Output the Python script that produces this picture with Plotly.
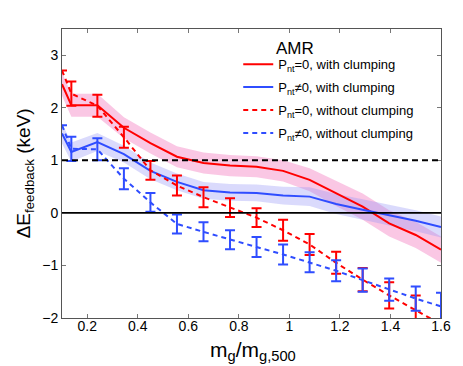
import plotly.graph_objects as go

# binned mass ratio where the error bars sit
x_bins = [0.137, 0.24, 0.345, 0.45, 0.555, 0.66, 0.765, 0.87, 0.975, 1.08, 1.185, 1.29, 1.395, 1.5]

# P_nt = 0, with clumping (solid red + band)
x_red_clump = [0.1, 0.137, 0.24, 0.345, 0.45, 0.555, 0.66, 0.765, 0.87, 0.975, 1.08, 1.185, 1.29, 1.395, 1.5, 1.6]
y_red_clump = [2.45, 2.05, 2.05, 1.62, 1.33, 1.07, 0.95, 0.90, 0.88, 0.80, 0.63, 0.37, 0.12, -0.20, -0.42, -0.70]
band_red = [0.22, 0.22, 0.22, 0.2, 0.2, 0.2, 0.2, 0.2, 0.2, 0.2, 0.22, 0.24, 0.25, 0.25, 0.25, 0.25]

# P_nt != 0, with clumping (solid blue + band)
x_blue_clump = x_red_clump
y_blue_clump = [1.51, 1.16, 1.35, 1.12, 0.80, 0.59, 0.43, 0.39, 0.38, 0.33, 0.31, 0.17, 0.06, -0.04, -0.15, -0.27]
band_blue = [0.19, 0.18, 0.17, 0.16, 0.16, 0.16, 0.16, 0.16, 0.16, 0.17, 0.18, 0.19, 0.2, 0.2, 0.2, 0.2]

# P_nt = 0, without clumping (dashed red + error bars)
x_red_noclump = [0.1] + x_bins + [1.6]
y_red_noclump = [2.71, 2.27, 2.04, 1.44, 0.81, 0.52, 0.30, 0.10, -0.09, -0.33, -0.60, -0.95, -1.27, -1.57, -1.85, -2.12]
err_red = [None, 0.23, 0.21, 0.20, 0.18, 0.19, 0.19, 0.18, 0.18, 0.20, 0.20, 0.21, 0.22, 0.25, 0.28, None]

# P_nt != 0, without clumping (dashed blue + error bars)
x_blue_noclump = [0.1] + x_bins + [1.6]
y_blue_noclump = [1.67, 1.22, 1.21, 0.65, 0.20, -0.21, -0.36, -0.51, -0.65, -0.79, -0.94, -1.10, -1.28, -1.46, -1.63, -1.78]
err_blue = [None, 0.23, 0.21, 0.20, 0.18, 0.18, 0.18, 0.18, 0.19, 0.19, 0.19, 0.20, 0.22, 0.21, 0.23, 0.26]

ref_levels = [(1, 'dash'), (0, 'solid')]

RED = '#ff0000'
BLUE = '#2f4dff'
FONT = 'Liberation Sans'

fig = go.Figure()

def band(xs, ys, errs, color):
    upper = [y + e for y, e in zip(ys, errs)]
    lower = [y - e for y, e in zip(ys, errs)]
    return go.Scatter(x=xs + xs[::-1], y=upper + lower[::-1], fill='toself',
                      fillcolor=color, line=dict(width=0), mode='lines',
                      hoverinfo='skip', showlegend=False)

fig.add_trace(band(x_red_clump, y_red_clump, band_red, 'rgba(245,130,195,0.45)'))
fig.add_trace(band(x_blue_clump, y_blue_clump, band_blue, 'rgba(150,150,245,0.35)'))

# each legend entry in its own group so tracegroupgap spaces them out
fig.add_trace(go.Scatter(x=x_red_clump, y=y_red_clump, mode='lines',
                         line=dict(color=RED, width=2), legendgroup='a',
                         name='P<sub>nt</sub>=0, with clumping'))
fig.add_trace(go.Scatter(x=x_blue_clump, y=y_blue_clump, mode='lines',
                         line=dict(color=BLUE, width=2), legendgroup='b',
                         name='P<sub>nt</sub>≠0, with clumping'))
fig.add_trace(go.Scatter(x=x_red_noclump, y=y_red_noclump, mode='lines',
                         line=dict(color=RED, width=2, dash='5px,4px'), legendgroup='c',
                         error_y=dict(type='data', array=err_red, color=RED, thickness=2, width=5),
                         name='P<sub>nt</sub>=0, without clumping'))
fig.add_trace(go.Scatter(x=x_blue_noclump, y=y_blue_noclump, mode='lines',
                         line=dict(color=BLUE, width=2, dash='5px,4px'), legendgroup='d',
                         error_y=dict(type='data', array=err_blue, color=BLUE, thickness=2, width=5),
                         name='P<sub>nt</sub>≠0, without clumping'))

for level, dash in ref_levels:
    fig.add_shape(type='line', xref='paper', x0=0, x1=1, yref='y', y0=level, y1=level,
                  line=dict(color='black', width=2 if dash == 'dash' else 1.6,
                            dash='6px,4px' if dash == 'dash' else 'solid'),
                  layer='above')

fig.add_annotation(text='AMR', xref='paper', yref='paper', x=0.56, y=0.934,
                   xanchor='left', yanchor='middle', showarrow=False,
                   font=dict(family=FONT, size=17, color='black'))

# axis titles placed as annotations for tight control
fig.add_annotation(text='m<sub>g</sub>/m<sub>g,500</sub>', xref='paper', yref='paper',
                   x=0.503, y=-0.165, xanchor='center', yanchor='bottom', showarrow=False,
                   font=dict(family=FONT, size=21, color='black'))
fig.add_annotation(text='\u0394E<sub>feedback</sub> (keV)', xref='paper', yref='paper',
                   x=-0.098, y=0.5, xanchor='center', yanchor='middle', textangle=-90,
                   showarrow=False, font=dict(family=FONT, size=19, color='black'))

axis_common = dict(showline=True, linecolor='#555555', linewidth=1, mirror='ticks',
                   ticks='inside', ticklen=4, tickcolor='#777777', showgrid=False,
                   zeroline=False, tickfont=dict(family=FONT, size=14, color='black'))

fig.update_layout(
    width=463, height=366,
    margin=dict(l=62, r=15, t=29, b=48),
    paper_bgcolor='white', plot_bgcolor='white',
    font=dict(family=FONT, color='black'),
    xaxis=dict(range=[0.1, 1.6], tickvals=[0.2, 0.4, 0.6, 0.8, 1, 1.2, 1.4, 1.6],
               ticktext=['0.2', '0.4', '0.6', '0.8', '1', '1.2', '1.4', '1.6'],
               ticklabelstandoff=-5, **axis_common),
    yaxis=dict(range=[-2, 3.5], tickvals=[-2, -1, 0, 1, 2, 3],
               ticktext=['\u22122', '\u22121', '0', '1', '2', '3'],
               **axis_common),
    legend=dict(x=0.465, y=0.93, xanchor='left', yanchor='top',
                bgcolor='rgba(0,0,0,0)', borderwidth=0,
                font=dict(family=FONT, size=13, color='black'),
                tracegroupgap=3, itemwidth=30),
    showlegend=True,
)

# drop the browser's default body margin so the figure sits at the window corner
fig.write_html("out.html", config={'displayModeBar': False},
               post_script="document.body.style.margin='0px';")
